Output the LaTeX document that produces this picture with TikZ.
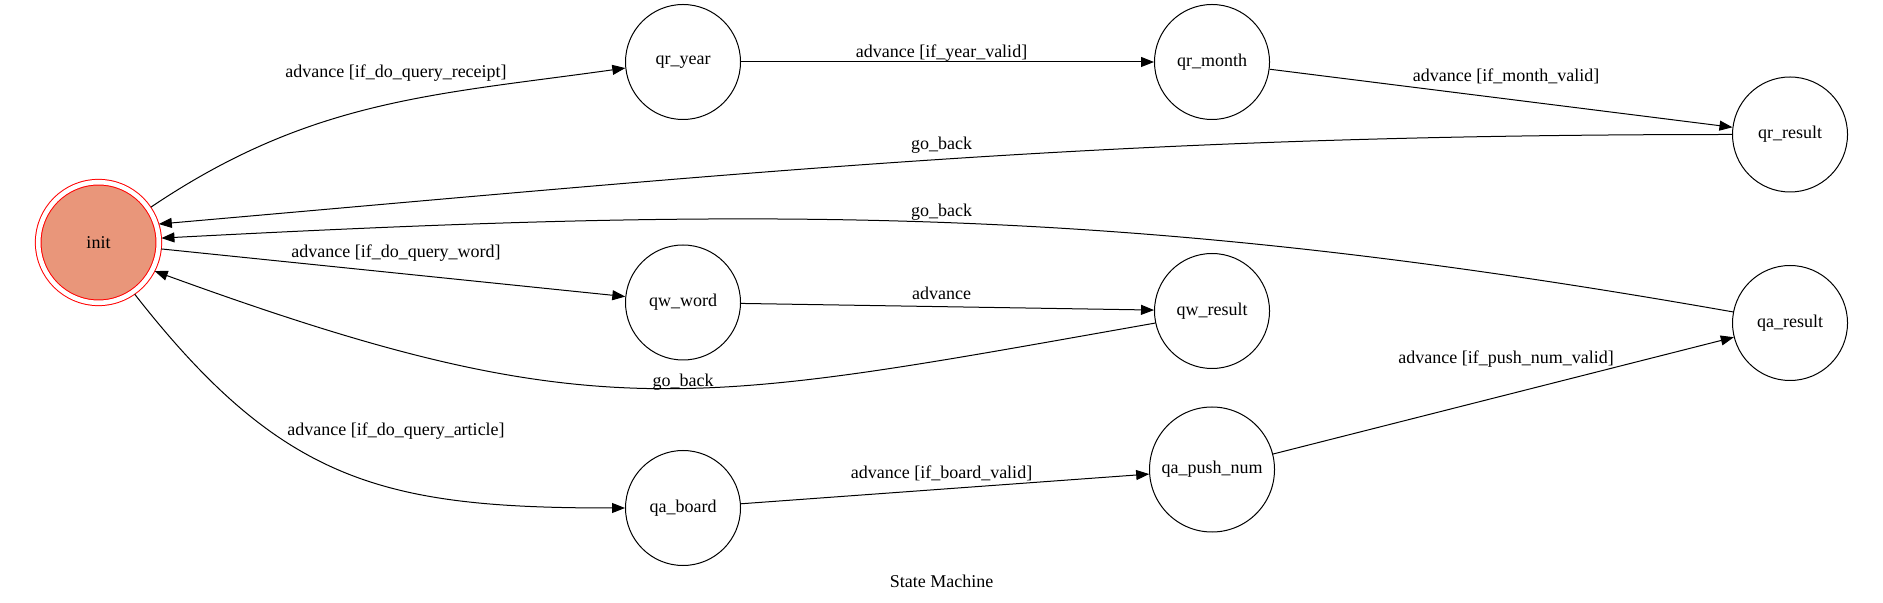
\documentclass[tikz,border=0pt]{standalone}
\usepackage{fontspec}
\setmainfont{Liberation Serif}
\usetikzlibrary{arrows.meta, positioning}
\definecolor{initsalmon}{RGB}{233,150,122}

\begin{document}
\begin{tikzpicture}[
        x=0.5pt, y=-0.5pt,
        every node/.style={font=\fontsize{9}{11}\selectfont},
        state/.style={circle, draw, line width=0.5pt, minimum size=57.5pt, inner sep=0pt},
        lbl/.style={inner sep=1pt},
        trans/.style={-{Triangle[length=6.5pt, width=5pt]}, line width=0.5pt}
    ]
        \useasboundingbox (0,0) rectangle (1883,603);

        % states
        \node[state, draw=red, fill=initsalmon, double=white, double distance=2.3pt, minimum size=60.3pt, outer sep=1.4pt] (init) at (98.5,242.5) {init};
        \node[state] (qr_year) at (683,62) {qr\_year};
        \node[state] (qr_month) at (1212,62) {qr\_month};
        \node[state] (qr_result) at (1790,134.5) {qr\_result};
        \node[state] (qw_word) at (683,302.5) {qw\_word};
        \node[state] (qw_result) at (1212,311) {qw\_result};
        \node[state] (qa_result) at (1790,323) {qa\_result};
        \node[state] (qa_board) at (683,508) {qa\_board};
        \node[state, minimum size=62.5pt] (qa_push_num) at (1212,469.5) {qa\_push\_num};

        % query receipt
        \draw[trans] (init.34) to[out=34, in=188] (qr_year.186)
            node[lbl] at (396,73) {advance [if\_do\_query\_receipt]};
        \draw[trans] (qr_year) -- (qr_month)
            node[lbl] at (941.5,53) {advance [if\_year\_valid]};
        \draw[trans] (qr_month) -- (qr_result)
            node[lbl] at (1506,76) {advance [if\_month\_valid]};
        \draw[trans] (qr_result.180) to[out=180, in=5] (init.17)
            node[lbl] at (941.5,145) {go\_back};

        % query word
        \draw[trans] (init) -- (qw_word)
            node[lbl] at (396,253) {advance [if\_do\_query\_word]};
        \draw[trans] (qw_word) -- (qw_result)
            node[lbl] at (941.5,293) {advance};
        \draw[trans] (qw_result.192) to[out=190, in=-20, looseness=1.2] (init.-27)
            node[lbl] at (683,382) {go\_back};

        % query article
        \draw[trans] (init.-55) to[out=-52, in=180, looseness=1.15] (qa_board)
            node[lbl] at (396,431) {advance [if\_do\_query\_article]};
        \draw[trans] (qa_board) -- (qa_push_num)
            node[lbl] at (941.5,473) {advance [if\_board\_valid]};
        \draw[trans] (qa_push_num) -- (qa_result)
            node[lbl] at (1506,359) {advance [if\_push\_num\_valid]};
        \draw[trans] (qa_result.169) to[out=170, in=3] (init.4)
            node[lbl] at (941.5,212.5) {go\_back};

        \node (title) at (941.5,581) {State Machine};
    \end{tikzpicture}
\end{document}
